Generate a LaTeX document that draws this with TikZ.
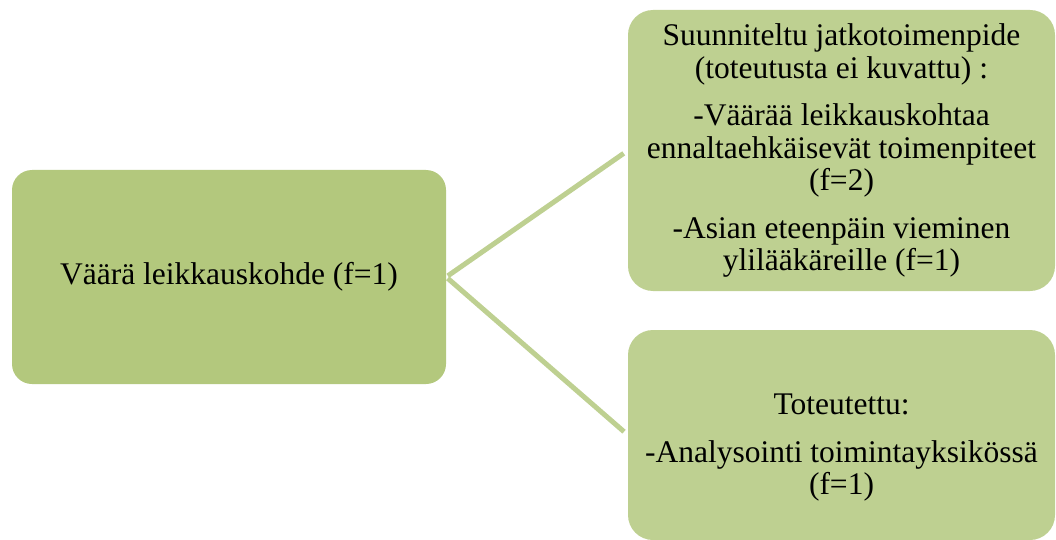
\documentclass[tikz,border=0pt]{standalone}
\usepackage{fontspec}
\setmainfont{Liberation Serif}
\usetikzlibrary{positioning}
\definecolor{leafgreen}{RGB}{179, 200, 125}
\definecolor{palegreen}{RGB}{190, 208, 145}

\begin{document}
\begin{tikzpicture}[
        x=1pt, y=-1pt,
        font=\fontsize{31.5}{32.5}\selectfont,
        cause/.style={rounded corners=20pt, fill=leafgreen, minimum width=434pt, minimum height=214pt, align=center, inner sep=0pt},
        action/.style={rounded corners=25pt, fill=palegreen, minimum width=427pt, align=center, inner sep=0pt},
        link/.style={draw=palegreen, line width=5pt},
    ]
        \useasboundingbox (0,0) rectangle (1056,540);

        % --- left: incident ---
        \node[cause] (vaara) at (229,277) {Väärä leikkauskohde (f=1)};

        % --- right: follow-up ---
        \node[action, minimum height=281pt] (suunn) at (841.5,150.5) {Suunniteltu jatkotoimenpide\\(toteutusta ei kuvattu) :\\[15pt]
            -Väärää leikkauskohtaa\\ennaltaehkäisevät toimenpiteet\\(f=2)\\[15pt]
            -Asian eteenpäin vieminen\\ylilääkäreille (f=1)};
        \node[action, minimum height=210pt] (toteut) at (841.5,435) {\rule{0pt}{46pt}Toteutettu:\\[15pt]
            -Analysointi toimintayksikössä\\(f=1)};

        % --- connectors ---
        \draw[link, shorten <=2pt, shorten >=5pt] (vaara.east) -- (suunn.west);
        \draw[link, shorten <=2pt, shorten >=5pt] (vaara.east) -- (toteut.west);

    \end{tikzpicture}
\end{document}
